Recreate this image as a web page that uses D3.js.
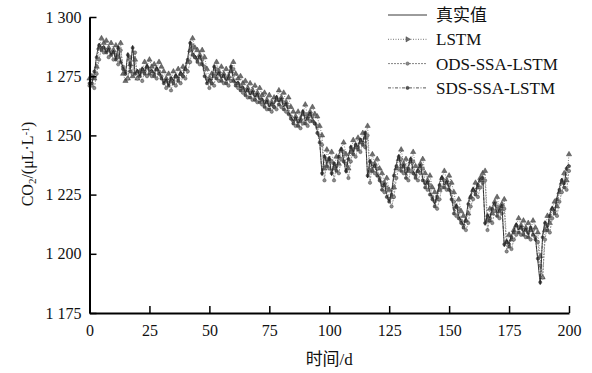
<!DOCTYPE html>
<html>
<head>
<meta charset="utf-8">
<script src="https://cdn.jsdelivr.net/npm/d3@7"></script>
<style>
  body { margin: 0; background: #fff; }
  svg text { font-family: "Liberation Serif", "Times New Roman", "Noto Sans CJK SC", serif; fill: #111; }
</style>
</head>
<body>
<div id="chart"></div>
<script>
// measured CO2 (day 0..200)
const trueValues = [
  1273,1272,1276,1284,1289,1287,1288,1285,1287,1284,
  1286,1282,1288,1281,1279,1276,1285,1278,1288,1276,
  1278,1275,1279,1277,1280,1277,1278,1276,1279,1277,
  1275,1272,1274,1271,1275,1273,1276,1274,1277,1276,
  1279,1283,1290,1285,1284,1282,1284,1281,1276,1272,
  1274,1273,1280,1275,1277,1274,1276,1273,1275,1280,
  1274,1272,1273,1270,1271,1268,1270,1267,1269,1266,
  1268,1265,1266,1263,1265,1262,1264,1263,1267,1264,
  1266,1262,1264,1260,1258,1256,1258,1255,1257,1261,
  1256,1258,1260,1257,1256,1252,1248,1233,1242,1238,
  1241,1233,1239,1236,1242,1245,1240,1234,1241,1246,
  1243,1247,1245,1249,1247,1252,1232,1240,1236,1238,
  1234,1232,1228,1230,1225,1222,1226,1234,1238,1242,
  1236,1238,1233,1237,1241,1235,1233,1236,1238,1232,
  1229,1231,1226,1224,1221,1225,1230,1233,1229,1231,
  1228,1224,1218,1221,1216,1214,1212,1215,1222,1225,
  1228,1226,1230,1232,1233,1212,1217,1215,1220,1222,
  1217,1219,1221,1203,1206,1204,1208,1210,1213,1210,
  1212,1209,1211,1208,1212,1209,1207,1197,1187,1208,
  1214,1211,1217,1220,1218,1224,1228,1232,1229,1237,
  1238
];
const lstmValues = [
  1274,1275,1274,1279,1287,1291,1289,1290,1287,1289,
  1286,1288,1283,1289,1276,1273,1274,1280,1275,1282,
  1274,1277,1277,1281,1279,1282,1279,1280,1278,1281,
  1279,1277,1274,1276,1273,1277,1275,1278,1276,1279,
  1278,1281,1286,1291,1287,1286,1284,1286,1283,1278,
  1274,1276,1275,1281,1277,1279,1276,1278,1275,1277,
  1281,1276,1274,1275,1272,1273,1270,1272,1269,1271,
  1268,1270,1267,1268,1265,1267,1264,1266,1265,1269,
  1266,1268,1264,1266,1262,1260,1258,1260,1257,1259,
  1263,1258,1260,1262,1259,1258,1254,1250,1236,1244,
  1240,1243,1236,1241,1238,1244,1247,1242,1236,1243,
  1248,1245,1249,1247,1251,1249,1254,1235,1242,1238,
  1240,1236,1234,1230,1232,1227,1224,1228,1236,1240,
  1244,1238,1240,1235,1239,1243,1237,1235,1238,1240,
  1234,1231,1233,1228,1226,1223,1227,1232,1235,1231,
  1233,1230,1226,1220,1223,1218,1216,1214,1217,1224,
  1227,1230,1228,1232,1234,1235,1214,1219,1217,1222,
  1224,1219,1221,1223,1205,1208,1206,1210,1212,1215,
  1212,1214,1211,1213,1210,1214,1211,1209,1199,1190,
  1210,1216,1213,1219,1222,1220,1226,1230,1234,1231,
  1242
];
const odsValues = [
  1271,1271,1270,1276,1282,1287,1285,1286,1283,1285,
  1282,1284,1280,1286,1279,1277,1274,1283,1276,1285,
  1274,1276,1273,1277,1275,1278,1275,1276,1274,1277,
  1275,1273,1270,1272,1269,1273,1271,1274,1272,1275,
  1274,1277,1281,1288,1283,1282,1280,1282,1279,1274,
  1270,1272,1271,1278,1273,1275,1272,1274,1271,1273,
  1278,1272,1270,1271,1268,1269,1266,1268,1265,1267,
  1264,1266,1263,1264,1261,1263,1260,1262,1261,1265,
  1262,1264,1260,1262,1258,1256,1254,1256,1253,1255,
  1259,1254,1256,1258,1255,1254,1250,1246,1231,1240,
  1236,1239,1231,1237,1234,1240,1243,1238,1232,1239,
  1244,1241,1245,1243,1247,1245,1250,1230,1238,1234,
  1236,1232,1230,1226,1228,1223,1220,1224,1232,1236,
  1240,1234,1236,1231,1235,1239,1233,1231,1234,1236,
  1230,1227,1229,1224,1222,1219,1223,1228,1231,1227,
  1229,1226,1222,1216,1219,1214,1212,1210,1213,1220,
  1223,1226,1224,1228,1230,1231,1210,1215,1213,1218,
  1220,1215,1217,1219,1201,1204,1202,1206,1208,1211,
  1208,1210,1207,1209,1206,1210,1207,1205,1195,1190,
  1206,1212,1209,1215,1218,1216,1222,1226,1230,1227,
  1235
];
const sdsValues = [
  1272,1272,1277,1283,1288,1286,1287,1285,1286,1284,
  1285,1282,1287,1281,1278,1276,1284,1277,1287,1276,
  1277,1275,1278,1276,1279,1276,1277,1275,1278,1276,
  1274,1272,1273,1271,1274,1272,1275,1273,1276,1275,
  1278,1282,1289,1284,1283,1281,1283,1280,1275,1272,
  1273,1272,1279,1274,1276,1273,1275,1272,1274,1279,
  1273,1271,1272,1269,1270,1267,1269,1266,1268,1265,
  1267,1264,1265,1262,1264,1261,1263,1262,1266,1263,
  1265,1261,1263,1259,1257,1255,1257,1254,1256,1260,
  1255,1257,1259,1256,1255,1251,1247,1234,1241,1237,
  1240,1234,1238,1235,1241,1244,1239,1235,1240,1245,
  1242,1246,1244,1248,1246,1251,1233,1239,1235,1237,
  1233,1231,1227,1229,1224,1222,1225,1233,1237,1241,
  1235,1237,1232,1236,1240,1234,1232,1235,1237,1231,
  1228,1230,1225,1223,1220,1224,1229,1232,1228,1230,
  1227,1223,1217,1220,1215,1213,1211,1214,1221,1224,
  1227,1225,1229,1231,1232,1213,1216,1214,1219,1221,
  1216,1218,1220,1204,1205,1203,1207,1209,1212,1209,
  1211,1208,1210,1207,1211,1208,1206,1198,1188,1207,
  1213,1210,1216,1219,1217,1223,1227,1231,1228,1236,
  1237
];
const xTicks = [0, 25, 50, 75, 100, 125, 150, 175, 200];
const yTicks = [1175, 1200, 1225, 1250, 1275, 1300];
const seriesNames = ["真实值", "LSTM", "ODS-SSA-LSTM", "SDS-SSA-LSTM"];

const width = 592, height = 373;
const margin = { top: 17, right: 23, bottom: 60, left: 89.5 };
const plotW = width - margin.left - margin.right;
const plotH = height - margin.top - margin.bottom;

const svg = d3.select("#chart").append("svg")
  .attr("width", width)
  .attr("height", height);

const g = svg.append("g")
  .attr("transform", `translate(${margin.left},${margin.top})`);

const x = d3.scaleLinear().domain([0, 200]).range([0, plotW]);
const y = d3.scaleLinear().domain([1175, 1300]).range([plotH, 0]);

const fmt = d => d >= 1000 ? `${Math.floor(d / 1000)} ${String(d % 1000).padStart(3, "0")}` : `${d}`;

// series styles (grayscale)
const styles = [
  { data: trueValues, stroke: "#222", width: 0.8, dash: null, symbol: null },
  { data: lstmValues, stroke: "#666", width: 0.8, dash: "1,1.5", symbol: d3.symbolTriangle, size: 12, fill: "#6e6e6e", edge: "#2a2a2a" },
  { data: odsValues, stroke: "#777", width: 0.8, dash: "2,1", symbol: d3.symbolCircle, size: 9, fill: "#8c8c8c", edge: "#333" },
  { data: sdsValues, stroke: "#444", width: 0.8, dash: "3,1.5,1,1.5", symbol: d3.symbolCircle, size: 8, fill: "#555", edge: "#222" }
];

const line = d3.line().x((d, i) => x(i)).y(d => y(d));

// predictions first, true values on top
[1, 2, 3, 0].forEach(k => {
  const s = styles[k];
  g.append("path")
    .datum(s.data)
    .attr("fill", "none")
    .attr("stroke", s.stroke)
    .attr("stroke-width", s.width)
    .attr("stroke-dasharray", s.dash)
    .attr("d", line);
  if (s.symbol) {
    g.append("g").selectAll("path")
      .data(s.data)
      .join("path")
      .attr("transform", (d, i) => `translate(${x(i)},${y(d)})`)
      .attr("d", d3.symbol(s.symbol, s.size))
      .attr("fill", s.fill)
      .attr("stroke", s.edge)
      .attr("stroke-width", 0.4);
  }
});

// axes
const xAxis = g.append("g")
  .attr("transform", `translate(0,${plotH})`)
  .call(d3.axisBottom(x).tickValues(xTicks).tickSizeInner(-7).tickSizeOuter(0).tickPadding(12).tickFormat(d => d));
const yAxis = g.append("g")
  .call(d3.axisLeft(y).tickValues(yTicks).tickSizeInner(-7).tickSizeOuter(0).tickPadding(8).tickFormat(fmt));

[xAxis, yAxis].forEach(a => {
  a.select(".domain").attr("stroke", "#000").attr("stroke-width", 2);
  a.selectAll(".tick line").attr("stroke", "#000").attr("stroke-width", 1.5);
  a.selectAll(".tick text").style("font-size", "16px").attr("fill", "#111");
});
xAxis.selectAll(".tick text").attr("dy", "0.71em");

// axis labels
svg.append("text")
  .attr("x", margin.left + plotW / 2)
  .attr("y", 365)
  .attr("text-anchor", "middle")
  .style("font-size", "17px")
  .text("时间/d");

const yLabel = svg.append("text")
  .attr("transform", "translate(33,164) rotate(-90)")
  .attr("text-anchor", "middle")
  .style("font-size", "16px");
yLabel.append("tspan").text("CO");
yLabel.append("tspan").attr("baseline-shift", "-25%").style("font-size", "11px").text("2");
yLabel.append("tspan").text("/(μL·L");
yLabel.append("tspan").attr("baseline-shift", "40%").style("font-size", "10px").text("-1");
yLabel.append("tspan").text(")");

// legend
const legend = svg.append("g").attr("transform", "translate(388,15)");
styles.forEach((s, i) => {
  const row = legend.append("g").attr("transform", `translate(0,${i * 24.3})`);
  row.append("line")
    .attr("x1", 0).attr("x2", 39)
    .attr("stroke", s.stroke)
    .attr("stroke-width", 0.9)
    .attr("stroke-dasharray", s.dash);
  if (s.symbol) {
    row.append("path")
      .attr("transform", i === 1 ? "translate(19.5,0) rotate(90)" : "translate(19.5,0)")
      .attr("d", d3.symbol(s.symbol, s.size))
      .attr("fill", s.fill)
      .attr("stroke", s.edge)
      .attr("stroke-width", 0.4);
  }
  row.append("text")
    .attr("x", 48)
    .attr("dy", "0.35em")
    .style("font-size", "17px")
    .text(seriesNames[i]);
});
</script>
</body>
</html>
